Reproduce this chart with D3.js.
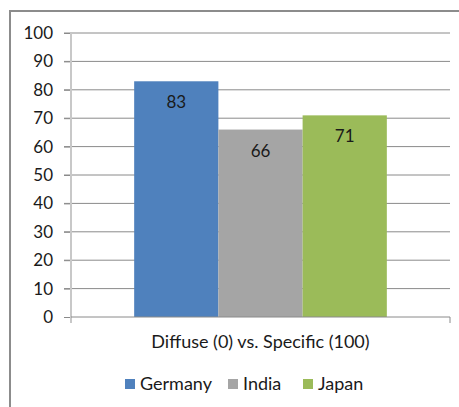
<!DOCTYPE html>
<html>
<head>
<meta charset="utf-8">
<script src="https://cdn.jsdelivr.net/npm/d3@7"></script>
<style>
  body { margin: 0; background: #fff; }
  text { font-family: Lato, "Open Sans", sans-serif; fill: #1a1a1a; }
</style>
</head>
<body>
<svg id="chart" width="459" height="407"></svg>
<script>
const category = "Diffuse (0) vs. Specific (100)";
const countries = ["Germany", "India", "Japan"];
const values = [83, 66, 71];
const colors = ["#4F81BD", "#A5A5A5", "#9BBB59"];
const yTicks = [0, 10, 20, 30, 40, 50, 60, 70, 80, 90, 100];

const svg = d3.select("#chart");

const area = { left: 71, right: 450, top: 33, bottom: 317 };

// рамка
svg.append("rect")
    .attr("x", 10).attr("y", 11)
    .attr("width", 470).attr("height", 420)
    .attr("fill", "none")
    .attr("stroke", "#8c8c8c")
    .attr("stroke-width", 2);

const scaleY = d3.scaleLinear().domain([0, 100]).range([area.bottom, area.top]);

const plotW = area.right - area.left;
const groupW = plotW * 2 / 3;
const scaleX = d3.scaleBand()
    .domain(countries)
    .range([area.left + (plotW - groupW) / 2, area.left + (plotW + groupW) / 2])
    .padding(0);

// сетка
svg.append("g")
    .selectAll("line")
    .data(yTicks.filter(d => d > 0))
    .join("line")
    .attr("x1", area.left - 7).attr("x2", area.right)
    .attr("y1", d => scaleY(d)).attr("y2", d => scaleY(d))
    .attr("stroke", "#8a8a8a")
    .attr("stroke-width", 1);

// ось Y
const axisY = d3.axisLeft(scaleY).tickValues(yTicks).tickSize(7).tickPadding(10);
const gY = svg.append("g")
    .attr("transform", `translate(${area.left}, 0)`)
    .call(axisY);
gY.select(".domain").remove();
gY.selectAll(".tick line").attr("stroke", "#8a8a8a");
gY.selectAll(".tick text")
    .style("font-size", "17px")
    .style("font-family", "Lato, sans-serif")
    .attr("fill", "#1a1a1a")
    .attr("x", -18);

svg.append("line")
    .attr("x1", area.left).attr("x2", area.left)
    .attr("y1", area.top).attr("y2", area.bottom + 6)
    .attr("stroke", "#c8c8c8").attr("stroke-width", 2);

// столбцы
svg.append("g")
    .selectAll("rect")
    .data(countries)
    .join("rect")
    .attr("x", d => scaleX(d))
    .attr("y", (d, i) => scaleY(values[i]))
    .attr("width", scaleX.bandwidth())
    .attr("height", (d, i) => area.bottom - scaleY(values[i]))
    .attr("fill", (d, i) => colors[i]);

svg.append("g")
    .selectAll("text")
    .data(countries)
    .join("text")
    .attr("x", d => scaleX(d) + scaleX.bandwidth() / 2)
    .attr("y", (d, i) => scaleY(values[i]) + 27)
    .attr("text-anchor", "middle")
    .style("font-size", "17px")
    .text((d, i) => values[i]);

// ось X
svg.append("line")
    .attr("x1", area.left).attr("x2", area.right)
    .attr("y1", area.bottom).attr("y2", area.bottom)
    .attr("stroke", "#8a8a8a");
svg.append("line")
    .attr("x1", area.right).attr("x2", area.right)
    .attr("y1", area.bottom).attr("y2", area.bottom + 6)
    .attr("stroke", "#8a8a8a");

svg.append("text")
    .attr("x", (area.left + area.right) / 2)
    .attr("y", 348)
    .attr("text-anchor", "middle")
    .style("font-size", "18px")
    .text(category);

// легенда
const legendX = [125, 228, 303];
const legend = svg.append("g")
    .selectAll("g")
    .data(countries)
    .join("g")
    .attr("transform", (d, i) => `translate(${legendX[i]}, 379)`);
legend.append("rect")
    .attr("width", 10).attr("height", 10)
    .attr("fill", (d, i) => colors[i]);
legend.append("text")
    .attr("x", 15).attr("y", 11)
    .style("font-size", "18px")
    .text(d => d);
</script>
</body>
</html>
